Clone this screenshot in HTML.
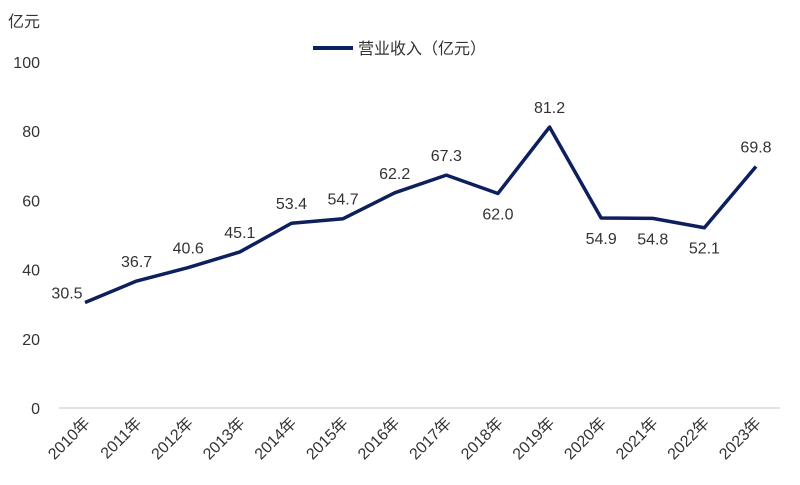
<!DOCTYPE html>
<html><head><meta charset="utf-8"><style>
body{margin:0;background:#fff}
svg text{font-family:"Liberation Sans","Noto Sans CJK SC",sans-serif;fill:#333}
</style></head><body>
<svg width="800" height="480">
<text x="8" y="27" font-size="16">亿元</text>
<g>
<line x1="313" y1="48" x2="353" y2="48" stroke="#0d1f5c" stroke-width="4"/>
<text x="358" y="54" font-size="16">营业收入（亿元）</text>
</g>
<line x1="59" y1="408" x2="780" y2="408" stroke="#d9d9d9" stroke-width="1.5"/>
<g id="yt"></g><g id="xt"></g>
<polyline id="ln" fill="none" stroke="#0d1f5c" stroke-width="3.5" stroke-linejoin="round"/>
<g id="lb"></g>
</svg>
<script>
const years=["2010年","2011年","2012年","2013年","2014年","2015年","2016年","2017年","2018年","2019年","2020年","2021年","2022年","2023年"];
const revenue=[30.5,36.7,40.6,45.1,53.4,54.7,62.2,67.3,62.0,81.2,54.9,54.8,52.1,69.8];
const yTicks=[0,20,40,60,80,100];
const below=[0,0,0,0,0,0,0,0,1,0,1,1,1,0];
const ns="http://www.w3.org/2000/svg";
const X=i=>85+i*(756-85)/13, Y=v=>408-v*3.46;
const yt=document.getElementById('yt');
yTicks.forEach(t=>{const e=document.createElementNS(ns,'text');


e.setAttribute('x',40);e.setAttribute('y',Y(t)+6);e.setAttribute('text-anchor','end');e.setAttribute('font-size','16');e.textContent=t;yt.appendChild(e);});
const xt=document.getElementById('xt');
years.forEach((y,i)=>{const e=document.createElementNS(ns,'text');


const x=X(i)+6,yy=424;e.setAttribute('x',x);e.setAttribute('y',yy);e.setAttribute('text-anchor','end');e.setAttribute('font-size','16');e.setAttribute('transform',`rotate(-45 ${x} ${yy})`);e.textContent=y;xt.appendChild(e);});
document.getElementById('ln').setAttribute('points',revenue.map((v,i)=>X(i)+','+Y(v)).join(' '));
const lb=document.getElementById('lb');
revenue.forEach((v,i)=>{const e=document.createElementNS(ns,'text');


let x=X(i),y=below[i]?Y(v)+26:Y(v)-14;
if(i==0){x-=18;y=Y(v)-4;}
e.setAttribute('x',x);e.setAttribute('y',y);e.setAttribute('text-anchor','middle');e.setAttribute('font-size','16');e.textContent=v.toFixed(1);lb.appendChild(e);});
</script>
</body></html>
